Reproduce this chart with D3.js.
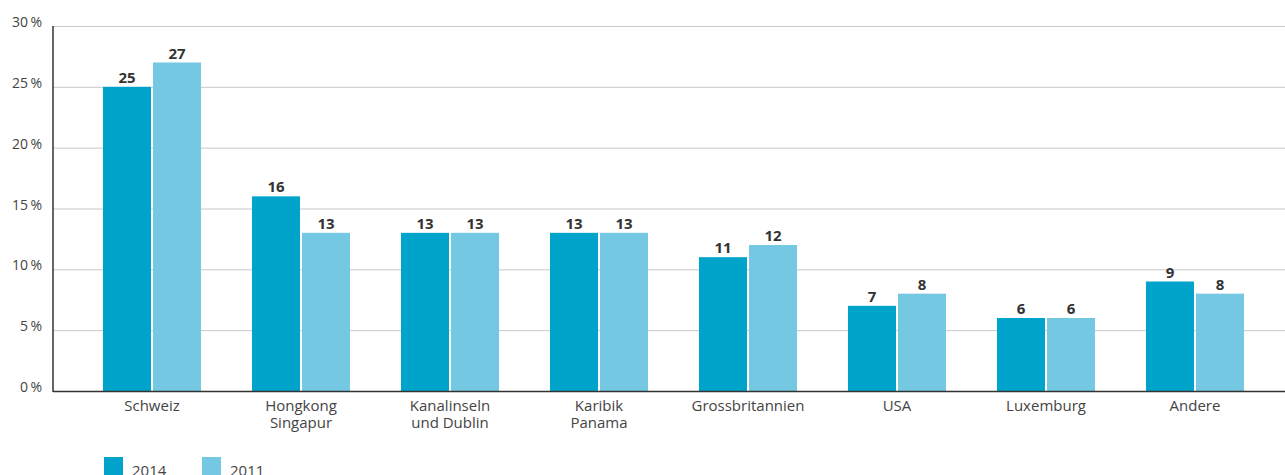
<!DOCTYPE html>
<html>
<head>
<meta charset="utf-8">
<script src="https://cdn.jsdelivr.net/npm/d3@7"></script>
<style>
  html, body { margin: 0; padding: 0; background: #fff; }
  svg { display: block; font-family: "Open Sans", "DejaVu Sans", sans-serif; }
</style>
</head>
<body>
<svg id="chart" width="1285" height="475"></svg>
<script>
// Categories (label lines) and values in percent
const categories = [
  ["Schweiz"],
  ["Hongkong", "Singapur"],
  ["Kanalinseln", "und Dublin"],
  ["Karibik", "Panama"],
  ["Grossbritannien"],
  ["USA"],
  ["Luxemburg"],
  ["Andere"]
];
const seriesNames = ["2014", "2011"];
const values2014 = [25, 16, 13, 13, 11, 7, 6, 9];
const values2011 = [27, 13, 13, 13, 12, 8, 6, 8];
const yTicks = [0, 5, 10, 15, 20, 25, 30];

const colors = { "2014": "#00a4cb", "2011": "#74c8e2" };
const series = { "2014": values2014, "2011": values2011 };

const svg = d3.select("#chart");
const plotLeft = 53, plotRight = 1285, plotTop = 26, plotBottom = 391;

const keys = categories.map(c => c.join(" "));
const x0 = d3.scaleBand()
  .domain(keys)
  .range([77.5, 1269.5])
  .paddingInner(0.342)
  .paddingOuter(0.171);
const x1 = d3.scaleBand()
  .domain(seriesNames)
  .range([0, x0.bandwidth()])
  .paddingInner(0.04);
const y = d3.scaleLinear().domain([0, 30]).range([plotBottom, plotTop]);

// Gridlines
svg.append("g")
  .selectAll("line")
  .data(yTicks.filter(t => t > 0))
  .join("line")
  .attr("x1", plotLeft).attr("x2", plotRight)
  .attr("y1", d => y(d) + 0.5).attr("y2", d => y(d) + 0.5)
  .attr("stroke", "#c9c9c9").attr("stroke-width", 1);

// Y tick labels
svg.append("g")
  .selectAll("text")
  .data(yTicks)
  .join("text")
  .attr("x", 42)
  .attr("y", d => y(d) + 1)
  .attr("text-anchor", "end")
  .attr("font-size", 14)
  .attr("fill", "#444")
  .text(d => d + "\u2009%");

// Bars
const groups = svg.append("g")
  .selectAll("g")
  .data(keys)
  .join("g")
  .attr("transform", d => `translate(${x0(d)},0)`);

groups.selectAll("rect")
  .data((d, i) => seriesNames.map(s => ({ s, v: series[s][i] })))
  .join("rect")
  .attr("x", d => x1(d.s))
  .attr("y", d => y(d.v))
  .attr("width", x1.bandwidth())
  .attr("height", d => y(0) - y(d.v))
  .attr("fill", d => colors[d.s]);

groups.selectAll("text.val")
  .data((d, i) => seriesNames.map(s => ({ s, v: series[s][i] })))
  .join("text")
  .attr("class", "val")
  .attr("x", d => x1(d.s) + x1.bandwidth() / 2)
  .attr("y", d => y(d.v) - 4)
  .attr("text-anchor", "middle")
  .attr("font-size", 15)
  .attr("font-weight", "bold")
  .attr("fill", "#333")
  .text(d => d.v);

// Axis lines
svg.append("line")
  .attr("x1", plotLeft).attr("x2", plotLeft)
  .attr("y1", plotTop).attr("y2", plotBottom + 1)
  .attr("stroke", "#333").attr("stroke-width", 1.5);
svg.append("line")
  .attr("x1", plotLeft).attr("x2", plotRight)
  .attr("y1", plotBottom + 0.5).attr("y2", plotBottom + 0.5)
  .attr("stroke", "#333").attr("stroke-width", 1.5);

// Category labels, one text element per line
const labelLines = categories.flatMap(c =>
  c.map((line, i) => ({ key: c.join(" "), line, i })));
svg.append("g")
  .selectAll("text")
  .data(labelLines)
  .join("text")
  .attr("x", d => x0(d.key) + x0.bandwidth() / 2)
  .attr("y", d => 411 + d.i * 17)
  .attr("text-anchor", "middle")
  .attr("font-size", 15)
  .attr("fill", "#444")
  .text(d => d.line);

// Legend (runs into the bottom edge of the page)
const legend = svg.append("g")
  .selectAll("g")
  .data(seriesNames)
  .join("g")
  .attr("transform", (d, i) => `translate(${104 + i * 98},457)`);
legend.append("rect")
  .attr("width", 19).attr("height", 19)
  .attr("fill", d => colors[d]);
legend.append("text")
  .attr("x", 28).attr("y", 19)
  .attr("font-size", 15)
  .attr("fill", "#444")
  .text(d => d);
</script>
</body>
</html>
